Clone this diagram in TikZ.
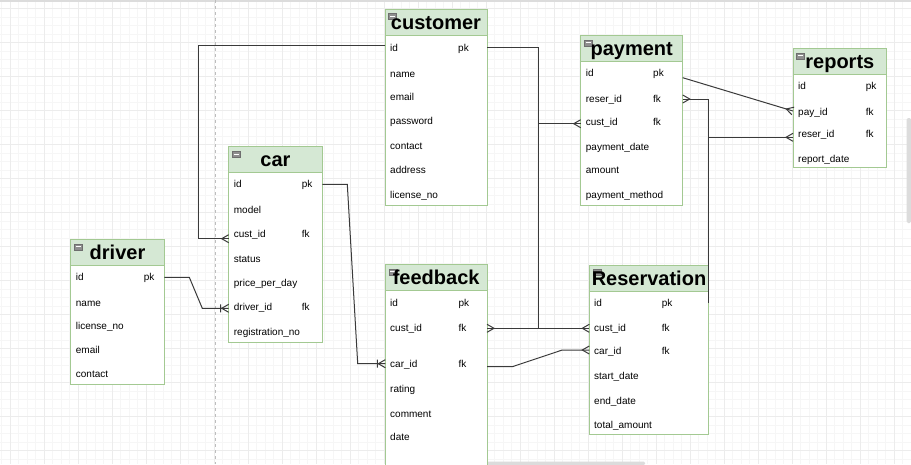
\documentclass[tikz,border=0pt]{standalone}
\usepackage{fontspec}
\setmainfont{Liberation Sans}
\usetikzlibrary{calc}

\definecolor{ergreen}{HTML}{A3C992}
\definecolor{erhead}{HTML}{D5E8D4}
\definecolor{lineg}{HTML}{3A3A3A}
\definecolor{gridminor}{HTML}{F6F6F6}
\definecolor{gridmajor}{HTML}{ECECEC}
\definecolor{dashc}{HTML}{BDBDBD}
\definecolor{scrollc}{HTML}{DCDCDC}
\definecolor{icongray}{HTML}{8E8E8E}
\definecolor{icondark}{HTML}{6E6E6E}

\pgfdeclarearrow{
  name = crow,
  parameters = {},
  setup code = {
    \pgfarrowssettipend{0pt}
    \pgfarrowssetlineend{0pt}
    \pgfarrowssetbackend{-7pt}
    \pgfarrowssetvisualbackend{-7pt}
    \pgfarrowshullpoint{0pt}{4pt}
    \pgfarrowshullpoint{0pt}{-4pt}
    \pgfarrowshullpoint{-7pt}{0pt}
  },
  drawing code = {
    \pgfsetdash{}{0pt}
    \pgfpathmoveto{\pgfpoint{0pt}{4pt}}
    \pgfpathlineto{\pgfpoint{-7pt}{0pt}}
    \pgfpathlineto{\pgfpoint{0pt}{-4pt}}
    \pgfusepathqstroke
  }
}
\pgfdeclarearrow{
  name = crowbar,
  parameters = {},
  setup code = {
    \pgfarrowssettipend{0pt}
    \pgfarrowssetlineend{0pt}
    \pgfarrowssetbackend{-8pt}
    \pgfarrowssetvisualbackend{-8pt}
    \pgfarrowshullpoint{0pt}{4pt}
    \pgfarrowshullpoint{0pt}{-4pt}
    \pgfarrowshullpoint{-8pt}{4pt}
    \pgfarrowshullpoint{-8pt}{-4pt}
  },
  drawing code = {
    \pgfsetdash{}{0pt}
    \pgfpathmoveto{\pgfpoint{0pt}{4pt}}
    \pgfpathlineto{\pgfpoint{-7pt}{0pt}}
    \pgfpathlineto{\pgfpoint{0pt}{-4pt}}
    \pgfpathmoveto{\pgfpoint{-8pt}{4pt}}
    \pgfpathlineto{\pgfpoint{-8pt}{-4pt}}
    \pgfusepathqstroke
  }
}

\tikzset{
  tbl/.style={draw=ergreen, fill=white, line width=1pt, anchor=north west, inner sep=0pt, outer sep=0pt},
  hdr/.style={draw=ergreen, fill=erhead, line width=1pt, anchor=north west, inner sep=0pt, outer sep=0pt, minimum height=26pt},
  ttl/.style={font=\fontsize{20}{24}\selectfont\bfseries, anchor=base, inner sep=0pt},
  rowt/.style={font=\fontsize{10}{12}\selectfont, anchor=west, inner sep=0pt, text height=7.5pt, text depth=0.5pt},
  conn/.style={draw=lineg, line width=1pt},
  iconbox/.style={fill=icongray, draw=icondark, line width=0.6pt},
}

\newcommand\ertable[6]{%
  \node[tbl, minimum width=#4pt, minimum height=#5pt] (#1) at (#2,#3) {};
  \node[hdr, minimum width=#4pt] (#1-h) at (#2,#3) {};
  \filldraw[iconbox] (#2+3.5,#3+4.5) rectangle ++(8,6);
  \draw[white, line width=1pt] (#2+5,#3+7.5) -- ++(5,0);
  \node[ttl] (#1-t) at (#2+#4/2, #3+20.2) {#6};
}

\begin{document}
\begin{tikzpicture}[x=1pt, y=-1pt]
\useasboundingbox (0,0) rectangle (911,464);
\clip (0,0) rectangle (911,464);
\fill[white] (0,0) rectangle (911,464);
% grid
\foreach \i in {0,...,107} {\draw[gridminor, line width=1pt] (1.8+8.5*\i,0) -- (1.8+8.5*\i,464);}
\foreach \i in {0,...,55} {\draw[gridminor, line width=1pt] (0,0.2+8.5*\i) -- (911,0.2+8.5*\i);}
\foreach \i in {0,...,27} {\draw[gridmajor, line width=1pt] (10.3+34*\i,0) -- (10.3+34*\i,464);}
\foreach \i in {0,...,13} {\draw[gridmajor, line width=1pt] (0,8.7+34*\i) -- (911,8.7+34*\i);}
% frame of the screenshot
\fill[scrollc] (0,0) rectangle (911,1.5);
\fill[scrollc, rounded corners=1.5pt] (906.7,118) rectangle (911,223);
\fill[scrollc, rounded corners=1.2pt] (393,461.7) rectangle (645,465);
\draw[dashc, dash pattern=on 3pt off 3pt, line width=1pt] (215.3,0) -- (215.3,464);

% tables
\ertable{customer}{385}{9}{102}{196}{customer}
\node[rowt] (cu-id) at (390,47.5) {id}; \node[rowt] at (458,47.5) {pk};
\node[rowt] (cu-name) at (390,73.5) {name};
\node[rowt] (cu-email) at (390,97) {email};
\node[rowt] (cu-password) at (390,121) {password};
\node[rowt] (cu-contact) at (390,145.5) {contact};
\node[rowt] (cu-address) at (390,170) {address};
\node[rowt] (cu-license) at (390,194.5) {license\_no};

\ertable{car}{228.7}{146.7}{93.6}{195.3}{car}
\node[rowt] (ca-id) at (233.7,184.3) {id}; \node[rowt] at (301.7,184.3) {pk};
\node[rowt] (ca-model) at (233.7,209.7) {model};
\node[rowt] (ca-custid) at (233.7,233.7) {cust\_id}; \node[rowt] at (301.7,233.7) {fk};
\node[rowt] (ca-status) at (233.7,258.7) {status};
\node[rowt] (ca-price) at (233.7,283) {price\_per\_day};
\node[rowt] (ca-driverid) at (233.7,306.7) {driver\_id}; \node[rowt] at (301.7,306.7) {fk};
\node[rowt] (ca-reg) at (233.7,331.7) {registration\_no};

\ertable{driver}{70.7}{239.3}{93.6}{144.7}{driver}
\node[rowt] (dr-id) at (75.7,277.3) {id}; \node[rowt] at (143.7,277.3) {pk};
\node[rowt] (dr-name) at (75.7,302.7) {name};
\node[rowt] (dr-license) at (75.7,325.7) {license\_no};
\node[rowt] (dr-email) at (75.7,349.7) {email};
\node[rowt] (dr-contact) at (75.7,373.7) {contact};

\ertable{payment}{580.7}{35.3}{102}{169.7}{payment}
\node[rowt] (pa-id) at (585.7,73.3) {id}; \node[rowt] at (653,73.3) {pk};
\node[rowt] (pa-reserid) at (585.7,99) {reser\_id}; \node[rowt] at (653,99) {fk};
\node[rowt] (pa-custid) at (585.7,121.7) {cust\_id}; \node[rowt] at (653,121.7) {fk};
\node[rowt] (pa-date) at (585.7,147) {payment\_date};
\node[rowt] (pa-amount) at (585.7,170.3) {amount};
\node[rowt] (pa-method) at (585.7,194.7) {payment\_method};

\ertable{reports}{793}{48.3}{93.7}{118.7}{reports}
\node[rowt] (re-id) at (798,85.7) {id}; \node[rowt] at (865.7,85.7) {pk};
\node[rowt] (re-payid) at (798,111.7) {pay\_id}; \node[rowt] at (865.7,111.7) {fk};
\node[rowt] (re-reserid) at (798,134) {reser\_id}; \node[rowt] at (865.7,134) {fk};
\node[rowt] (re-date) at (798,159) {report\_date};

\ertable{feedback}{385.3}{264.3}{101.7}{215}{feedback}
\node[rowt] (fb-id) at (390,302.7) {id}; \node[rowt] at (458.3,302.7) {pk};
\node[rowt] (fb-custid) at (390,328.3) {cust\_id}; \node[rowt] at (458.3,328.3) {fk};
\node[rowt] (fb-carid) at (390,363.7) {car\_id}; \node[rowt] at (458.3,363.7) {fk};
\node[rowt] (fb-rating) at (390,389) {rating};
\node[rowt] (fb-comment) at (390,413.7) {comment};
\node[rowt] (fb-date) at (390,436.7) {date};

\ertable{reservation}{589.3}{265}{119.4}{169.3}{Reservation}
\node[rowt] (rs-id) at (594,302.7) {id}; \node[rowt] at (661.7,302.7) {pk};
\node[rowt] (rs-custid) at (594,328.3) {cust\_id}; \node[rowt] at (661.7,328.3) {fk};
\node[rowt] (rs-carid) at (594,350.7) {car\_id}; \node[rowt] at (661.7,350.7) {fk};
\node[rowt] (rs-start) at (594,375.7) {start\_date};
\node[rowt] (rs-end) at (594,400.7) {end\_date};
\node[rowt] (rs-total) at (594,424.7) {total\_amount};

% connectors
\draw[conn,-crow] ($(customer.west |- cu-id)+(0,-2.5)$) -| ($(car.west |- ca-custid)+(-30.4,5)$) -- ($(car.west |- ca-custid)+(0,5)$);
\draw[conn,-crowbar] (driver.east |- dr-id) -- ++(25,0) -- ($(car.west |- ca-driverid)+(-26.4,1.6)$) -- ($(car.west |- ca-driverid)+(0,1.6)$);
\draw[conn,-crowbar] (car.east |- ca-id) -- ++(25,0) -- ($(feedback.west |- fb-carid)+(-27.6,0)$) -- (feedback.west |- fb-carid);
\coordinate (jc) at ($(reservation.west |- rs-custid)+(-51,0)$);
\draw[conn] (customer.east |- cu-id) -| (jc);
\draw[conn,-crow] (jc) -- (reservation.west |- rs-custid);
\draw[conn,-crow] (jc) -- (feedback.east |- fb-custid);
\draw[conn,-crow] ($(jc |- pa-custid)+(0,2)$) -- ($(payment.west |- pa-custid)+(0,2)$);
\draw[conn,-crow] ($(feedback.east |- fb-carid)+(0,3)$) -- ++(25.3,0) -- ($(reservation.west |- rs-carid)+(-27,-0.7)$) -- ($(reservation.west |- rs-carid)+(0,-0.7)$);
\draw[conn,-crow] ($(payment.east |- pa-id)+(0,4.4)$) -- ($(reports.west |- re-payid)+(0,-0.7)$);
\draw[conn,-crow] (reservation.east |- rs-id) |- (payment.east |- pa-reserid);
\draw[conn,-crow] ($(reservation.east |- re-reserid)+(0,3.3)$) -- ($(reports.west |- re-reserid)+(0,3.3)$);
\end{tikzpicture}
\end{document}
